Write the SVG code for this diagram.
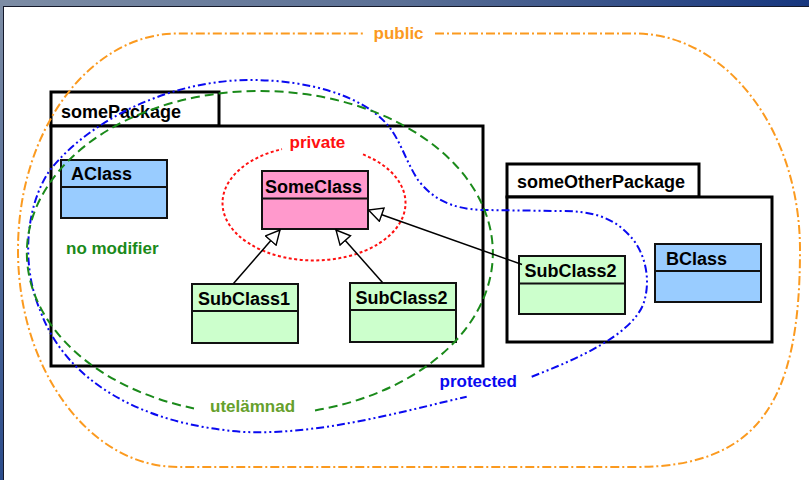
<svg xmlns="http://www.w3.org/2000/svg" width="809" height="480" viewBox="0 0 809 480">
  <defs>
    <linearGradient id="barTop" x1="0" y1="0" x2="1" y2="0">
      <stop offset="0" stop-color="#7d8da5"/>
      <stop offset="0.5" stop-color="#5a6f95"/>
      <stop offset="1" stop-color="#17377f"/>
    </linearGradient>
    <linearGradient id="barLeft" x1="0" y1="0" x2="0" y2="1">
      <stop offset="0" stop-color="#7d8da5"/>
      <stop offset="1" stop-color="#2b4c8c"/>
    </linearGradient>
    <marker id="inherit" markerUnits="userSpaceOnUse" markerWidth="16" markerHeight="16" viewBox="-1 -8 16 16" refX="14" refY="0" orient="auto">
      <path d="M0,-7 L14,0 L0,7 Z" fill="#fff" stroke="#000" stroke-width="1.4" stroke-linejoin="miter"/>
    </marker>
    <style>
      .pkg { fill: #fff; stroke: #000; stroke-width: 3; }
      .cls { stroke: #111; stroke-width: 2; }
      .blue { fill: #99ccff; }
      .pink { fill: #ff99cc; }
      .green { fill: #ccffcc; }
      text { font-family: "Liberation Sans", Arial, sans-serif; font-weight: bold; }
      .name { font-size: 18px; fill: #000; }
      .lbl { font-size: 17px; }
      .scope { fill: none; stroke-width: 2; }
      .edge { fill: none; stroke: #000; stroke-width: 1.5; marker-end: url(#inherit); }
    </style>
  </defs>

  <!-- slide frame -->
  <rect x="0" y="0" width="809" height="480" fill="#fff"/>
  <rect x="0" y="0" width="809" height="6" fill="url(#barTop)"/>
  <rect x="0" y="0" width="3" height="480" fill="url(#barLeft)"/>
  <line x1="3" y1="6.5" x2="809" y2="6.5" stroke="#15192a" stroke-width="1"/>
  <line x1="3.5" y1="6" x2="3.5" y2="480" stroke="#15192a" stroke-width="1"/>

  <!-- packages -->
  <g id="somePackage">
    <rect class="pkg" x="51" y="92" width="168" height="34"/>
    <rect class="pkg" x="51" y="126" width="432" height="240"/>
    <text class="name" x="61" y="117.5">somePackage</text>
  </g>
  <g id="someOtherPackage">
    <rect class="pkg" x="507" y="164" width="192" height="33"/>
    <rect class="pkg" x="507" y="197" width="265" height="145"/>
    <text class="name" x="517" y="188">someOtherPackage</text>
  </g>

  <!-- classes -->
  <g id="AClass">
    <rect class="cls blue" x="61" y="160" width="106" height="58"/>
    <line class="cls" x1="61" y1="187" x2="167" y2="187"/>
    <text class="name" x="71" y="180">AClass</text>
  </g>
  <g id="SomeClass">
    <rect class="cls pink" x="262" y="171" width="106" height="58"/>
    <line class="cls" x1="262" y1="198.5" x2="368" y2="198.5"/>
    <text class="name" x="265" y="192.5">SomeClass</text>
  </g>
  <g id="SubClass1">
    <rect class="cls green" x="192" y="284" width="106" height="59"/>
    <line class="cls" x1="192" y1="311" x2="298" y2="311"/>
    <text class="name" x="198" y="305">SubClass1</text>
  </g>
  <g id="SubClass2">
    <rect class="cls green" x="350" y="283" width="106" height="59"/>
    <line class="cls" x1="350" y1="310" x2="456" y2="310"/>
    <text class="name" x="355.5" y="304">SubClass2</text>
  </g>
  <g id="OtherSubClass2">
    <rect class="cls green" x="519" y="256" width="106" height="58"/>
    <line class="cls" x1="519" y1="283.5" x2="625" y2="283.5"/>
    <text class="name" x="524.5" y="277">SubClass2</text>
  </g>
  <g id="BClass">
    <rect class="cls blue" x="655" y="244" width="106" height="58"/>
    <line class="cls" x1="655" y1="271" x2="761" y2="271"/>
    <text class="name" x="666" y="265">BClass</text>
  </g>

  <!-- visibility scopes -->
  <g id="scopes">
    <path id="scope-public" class="scope" stroke="#fb9a1f" stroke-dasharray="9 3 2 3"
          d="M435 33.5 L635 33.5 C726 33.5 800 130 800 250 C800 400 760 467 635 467 L178 467 C90 467 18 370 18 250 C18 130 90 33.5 178 33.5 L363 33.5"/>
    <text class="lbl" x="373.5" y="38.5" fill="#fb9a1f">public</text>

    <path id="scope-protected" class="scope" stroke="#0a0af0" stroke-dasharray="8 3 2 3 2 3"
          d="M531.7 376.7 C580 358 630 335 643 305 C652 280 645 252 630 236 C612 216 590 211 560 211 L483 210 C450 209 432 198 418 180 C405 160 400 138 385 122 C360 96 310 80 250 80 C170 80 90 120 50 170 C24 208 22 268 40 310 C65 380 140 425 245 432 C320 435 400 412 466.7 396.7"/>
    <text class="lbl" x="439.5" y="387" fill="#0a0af0">protected</text>

    <path id="scope-package" class="scope" stroke="#1a8a1a" stroke-dasharray="9 5"
          d="M315 410.4 A233 162 0 1 0 194 408.4"/>
    <text class="lbl" x="66" y="254" fill="#1a8a1a">no modifier</text>
    <text class="lbl" x="210" y="411.5" fill="#66a02c">utelämnad</text>

    <path id="scope-private" class="scope" stroke="#ff1010" stroke-dasharray="3 2.5"
          d="M363 154.4 A91.5 57.5 0 1 1 282 149.1"/>
    <text class="lbl" x="289.5" y="148" fill="#ff1010">private</text>
  </g>

  <!-- generalizations -->
  <g id="connectors">
    <line class="edge" x1="233.5" y1="283.5" x2="280" y2="230"/>
    <line class="edge" x1="382.5" y1="282.5" x2="336" y2="230"/>
    <line class="edge" x1="522" y1="264.5" x2="368.5" y2="210"/>
  </g>
</svg>
